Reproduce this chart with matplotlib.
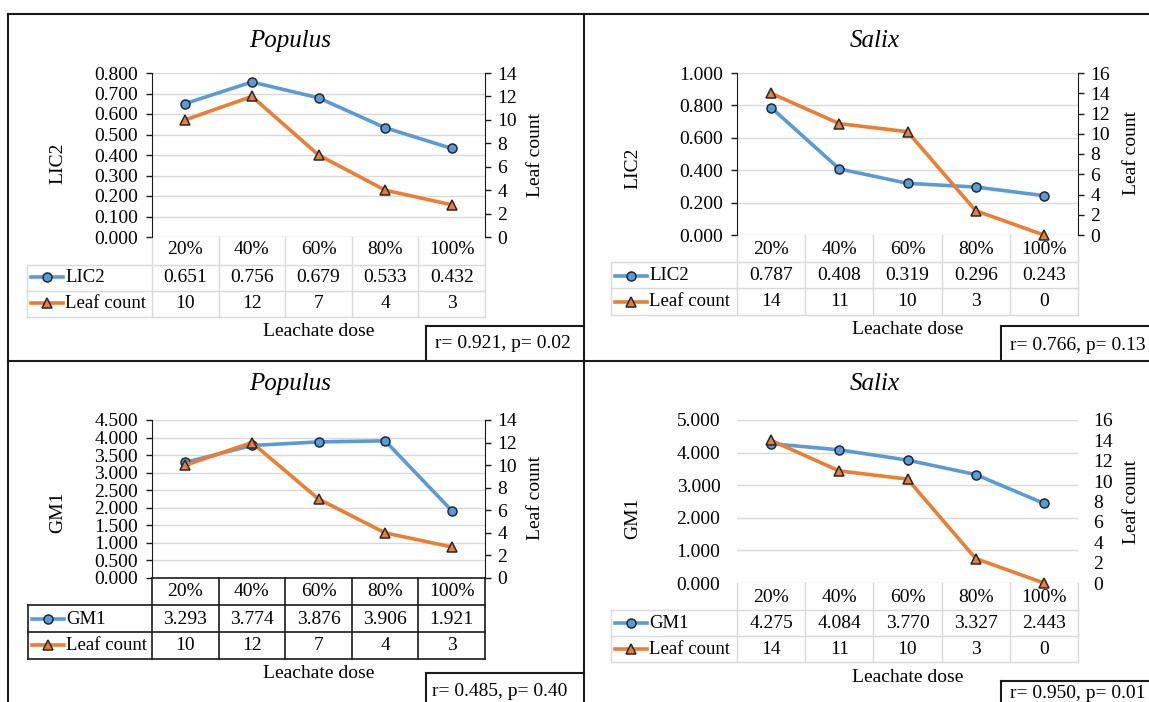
import matplotlib
matplotlib.use('Agg')
import matplotlib.pyplot as plt
from matplotlib.lines import Line2D
import matplotlib.transforms as mtransforms
import numpy as np

W, H = 1149, 702
plt.rcParams['font.family'] = ['Liberation Serif', 'DejaVu Serif']
plt.rcParams['font.size'] = 14

# ---------------- data ----------------
categories = ['20%', '40%', '60%', '80%', '100%']
lic2_populus = [0.651, 0.756, 0.679, 0.533, 0.432]
lic2_salix = [0.787, 0.408, 0.319, 0.296, 0.243]
gm1_populus = [3.293, 3.774, 3.876, 3.906, 1.921]
gm1_salix = [4.275, 4.084, 3.770, 3.327, 2.443]
leaf_populus = [10, 12, 7, 4, 2.75]      # plotted positions
leaf_salix = [14, 11, 10.2, 2.4, 0]      # plotted positions
leaf_populus_table = ['10', '12', '7', '4', '3']
leaf_salix_table = ['14', '11', '10', '3', '0']
stats = ['r= 0.921, p= 0.02', 'r= 0.766, p= 0.13',
         'r= 0.485, p= 0.40', 'r= 0.950, p= 0.01']

BLUE = '#5B9BD5'
ORANGE = '#ED7D31'
EDGE = '#1F2A36'
GRID = '#D9D9D9'
DARK = '#1A1A1A'

fig = plt.figure(figsize=(W / 100, H / 100), dpi=100)


def fx(x):
    return x / W


def fy(y):
    return 1 - y / H


def fline(xs, ys, color=DARK, lw=1.5, z=5):
    fig.add_artist(Line2D([fx(x) for x in xs], [fy(y) for y in ys],
                          transform=fig.transFigure, color=color, lw=lw,
                          zorder=z, solid_capstyle='projecting'))


def panel(spec):
    l, t, r, b = spec['rect']
    ax = fig.add_axes([fx(l), fy(b), (r - l) / W, (b - t) / H])
    ax2 = ax.twinx()
    x = np.arange(len(categories))
    ax.set_xlim(-0.5, len(categories) - 0.5)
    ax.set_ylim(*spec['ylim'])
    ax2.set_ylim(*spec['rylim'])
    yt = np.arange(spec['ylim'][0], spec['ylim'][1] + spec['ystep'] / 2, spec['ystep'])
    ax.set_yticks(yt)
    ax.set_yticklabels([f'{v:.3f}' for v in yt])
    rt = np.arange(spec['rylim'][0], spec['rylim'][1] + 0.5, spec['rstep'])
    ax2.set_yticks(rt)
    ax2.set_yticklabels([f'{int(v)}' for v in rt])
    ax.set_xticks([])
    ax2.set_xticks([])
    for a in (ax, ax2):
        for s in a.spines.values():
            s.set_visible(False)
    ax.set_axisbelow(True)
    ax.yaxis.grid(True, color=GRID, lw=1.0)
    ax.patch.set_visible(False)
    if spec['spines']:
        ax.spines['left'].set_visible(True)
        ax.spines['left'].set_color(DARK)
        ax2.spines['right'].set_visible(True)
        ax2.spines['right'].set_color(DARK)
        ax.tick_params(axis='y', direction='out', length=4, width=1,
                       color=DARK, pad=6, labelsize=14)
        ax2.tick_params(axis='y', direction='out', length=4, width=1,
                        color=DARK, pad=5, labelsize=14)
    else:
        ax.tick_params(axis='y', length=0, pad=12, labelsize=14)
        ax2.tick_params(axis='y', length=0, pad=11, labelsize=14)

    ax.plot(x, spec['main'], color=BLUE, lw=2.6, marker='o', ms=6.5,
            mfc=BLUE, mec=EDGE, mew=1.1, clip_on=False, zorder=3)
    ax2.plot(x, spec['leaf'], color=ORANGE, lw=2.6, marker='^', ms=7.5,
             mfc=ORANGE, mec=EDGE, mew=1.1, clip_on=False, zorder=4)

    # titles / labels
    fig.text(fx(spec['title_xy'][0]), fy(spec['title_xy'][1]), spec['title'],
             ha='center', va='center', fontsize=18, style='italic')
    fig.text(fx(spec['ylabel_xy'][0]), fy(spec['ylabel_xy'][1]), spec['name'],
             ha='center', va='center', rotation=90, fontsize=14)
    fig.text(fx(spec['rlabel_xy'][0]), fy(spec['rlabel_xy'][1]), 'Leaf count',
             ha='center', va='center', rotation=90, fontsize=14)
    fig.text(fx((l + r) / 2), fy(spec['xlabel_y']), 'Leachate dose',
             ha='center', va='center', fontsize=14)

    # data table
    tr = mtransforms.blended_transform_factory(ax.transData, fig.transFigure)
    hdr, r1, r2 = spec['rows']
    hb, mid, bot = spec['hlines']
    tc = spec['tcolor']
    tlw = 1.2 if tc == DARK else 1.0
    for i, c in enumerate(categories):
        ax.text(i, fy(hdr), c, transform=tr, ha='center', va='center',
                fontsize=14, clip_on=False)
        ax.text(i, fy(r1), f'{spec["main"][i]:.3f}', transform=tr,
                ha='center', va='center', fontsize=14, clip_on=False)
        ax.text(i, fy(r2), spec['leaf_table'][i], transform=tr,
                ha='center', va='center', fontsize=14, clip_on=False)
    for k in range(len(categories) + 1):
        ax.add_line(Line2D([k - 0.5, k - 0.5], [fy(b), fy(bot)], transform=tr,
                           color=tc, lw=tlw, clip_on=False))
    ll = spec['legend_left']
    for yy in (hb, mid, bot):
        fline([ll, r], [yy, yy], color=tc, lw=tlw)
    fline([ll, ll], [hb, bot], color=tc, lw=tlw)
    if tc == DARK:
        fline([l, r], [b, b], color=tc, lw=tlw)

    # legend keys inside table
    fline([ll + 4, ll + 36], [r1, r1], color=BLUE, lw=2.6, z=6)
    fig.add_artist(Line2D([fx(ll + 20)], [fy(r1)], transform=fig.transFigure,
                          marker='o', ms=6.5, mfc=BLUE, mec=EDGE, mew=1.1,
                          ls='none', zorder=7))
    fline([ll + 4, ll + 36], [r2, r2], color=ORANGE, lw=2.6, z=6)
    fig.add_artist(Line2D([fx(ll + 20)], [fy(r2)], transform=fig.transFigure,
                          marker='^', ms=7, mfc=ORANGE, mec=EDGE, mew=1.1,
                          ls='none', zorder=7))
    fig.text(fx(ll + 38), fy(r1), spec['name'], ha='left', va='center', fontsize=13.5)
    fig.text(fx(ll + 38), fy(r2), 'Leaf count', ha='left', va='center', fontsize=13.5)

    # stat box
    bx, by, bx2, by2 = spec['box']
    fline([bx, bx2], [by, by])
    fline([bx, bx], [by, by2])
    fig.text(fx(spec['stat_xy'][0]), fy(spec['stat_xy'][1]), spec['stat'],
             ha='center', va='center', fontsize=14)


specs = [
    dict(rect=(152, 73, 485, 237), ylim=(0, 0.8), ystep=0.1, rylim=(0, 14), rstep=2,
         main=lic2_populus, leaf=leaf_populus, leaf_table=leaf_populus_table,
         name='LIC2', title='Populus', title_xy=(290, 41), ylabel_xy=(58, 163),
         rlabel_xy=(536, 155), xlabel_y=332, rows=(250, 277, 303), hlines=(265, 291, 317),
         legend_left=27, tcolor=GRID, spines=True, box=(426, 326, 584, 360),
         stat=stats[0], stat_xy=(503, 343)),
    dict(rect=(737, 73, 1078, 235), ylim=(0, 1.0), ystep=0.2, rylim=(0, 16), rstep=2,
         main=lic2_salix, leaf=leaf_salix, leaf_table=leaf_salix_table,
         name='LIC2', title='Salix', title_xy=(875, 41), ylabel_xy=(633, 168),
         rlabel_xy=(1131, 153), xlabel_y=330, rows=(249, 276, 302), hlines=(262, 288, 315),
         legend_left=611, tcolor=GRID, spines=True, box=(1001, 326, 1160, 360),
         stat=stats[1], stat_xy=(1078, 345)),
    dict(rect=(152, 420, 485, 578), ylim=(0, 4.5), ystep=0.5, rylim=(0, 14), rstep=2,
         main=gm1_populus, leaf=leaf_populus, leaf_table=leaf_populus_table,
         name='GM1', title='Populus', title_xy=(290, 384), ylabel_xy=(58, 512),
         rlabel_xy=(536, 498), xlabel_y=673, rows=(592, 619, 645), hlines=(605, 632, 659),
         legend_left=28, tcolor=DARK, spines=True, box=(426, 673, 584, 710),
         stat=stats[2], stat_xy=(500, 692)),
    dict(rect=(737, 420, 1078, 583), ylim=(0, 5.0), ystep=1.0, rylim=(0, 16), rstep=2,
         main=gm1_salix, leaf=leaf_salix, leaf_table=leaf_salix_table,
         name='GM1', title='Salix', title_xy=(875, 384), ylabel_xy=(633, 518),
         rlabel_xy=(1131, 502), xlabel_y=677, rows=(597, 623, 649), hlines=(610, 636, 662),
         legend_left=611, tcolor=GRID, spines=False, box=(1001, 681, 1160, 710),
         stat=stats[3], stat_xy=(1078, 694)),
]

for s in specs:
    panel(s)

# outer frame and dividers
fline([8, 1160], [14, 14])
fline([8, 8], [14, 710])
fline([583.5, 583.5], [14, 710])
fline([8, 1160], [360.5, 360.5])

fig.savefig('out.png', dpi=100, facecolor='white')
